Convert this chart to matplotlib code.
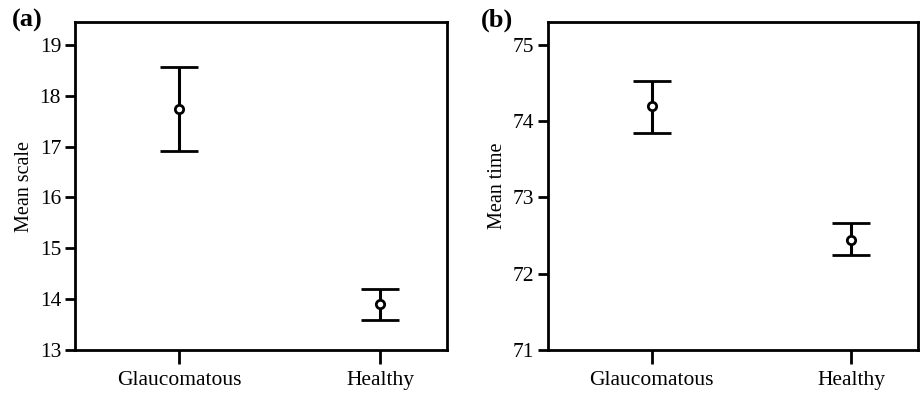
import matplotlib
matplotlib.use("Agg")
import matplotlib.pyplot as plt

plt.rcParams['font.family'] = ['Liberation Serif', 'DejaVu Serif']

groups = ["Glaucomatous", "Healthy"]

scale_mean = [17.74, 13.90]
scale_lower = [16.92, 13.59]
scale_upper = [18.57, 14.20]
scale_ticks = [13, 14, 15, 16, 17, 18, 19]

time_mean = [74.20, 72.44]
time_lower = [73.85, 72.24]
time_upper = [74.53, 72.66]
time_ticks = [71, 72, 73, 74, 75]

fig = plt.figure(figsize=(9.22, 3.96), dpi=100)
W, H = 922, 396

def make_ax(left, right, top, bottom):
    return fig.add_axes([left / W, 1 - bottom / H, (right - left) / W, (bottom - top) / H])

ax1 = make_ax(75, 447, 22, 350)
ax2 = make_ax(548, 918, 22, 350)

def draw(ax, mean, lo, hi, ticks, ylim, ylabel, tag, tagx):
    x = list(range(len(groups)))
    yerr = [[m - l for m, l in zip(mean, lo)], [h - m for m, h in zip(mean, hi)]]
    ax.errorbar(x, mean, yerr=yerr, fmt='o', color='black', ecolor='black',
                elinewidth=2.2, capsize=14, capthick=2.6,
                markersize=6, markerfacecolor='white', markeredgecolor='black',
                markeredgewidth=2.0)
    ax.set_xlim(-0.519, 1.333)
    ax.set_ylim(*ylim)
    ax.set_xticks(x)
    ax.set_xticklabels(groups, fontsize=15.5)
    ax.set_yticks(ticks)
    ax.set_yticklabels([str(t) for t in ticks], fontsize=15.5)
    ax.tick_params(axis='y', direction='out', length=7, width=2, pad=3)
    ax.tick_params(axis='x', direction='out', length=10, width=2, pad=5)
    for s in ax.spines.values():
        s.set_linewidth(2)
    ax.set_ylabel(ylabel, fontsize=14.5, labelpad=4)
    fig.text(tagx / W, 1 - 27 / H, tag, fontsize=19,
             fontweight='bold', ha='left', va='baseline')

draw(ax1, scale_mean, scale_lower, scale_upper, scale_ticks, (13, 19.45), "Mean scale", "(a)", 12)
draw(ax2, time_mean, time_lower, time_upper, time_ticks, (71, 75.30), "Mean time", "(b)", 481)

fig.savefig("out.png", dpi=100)
